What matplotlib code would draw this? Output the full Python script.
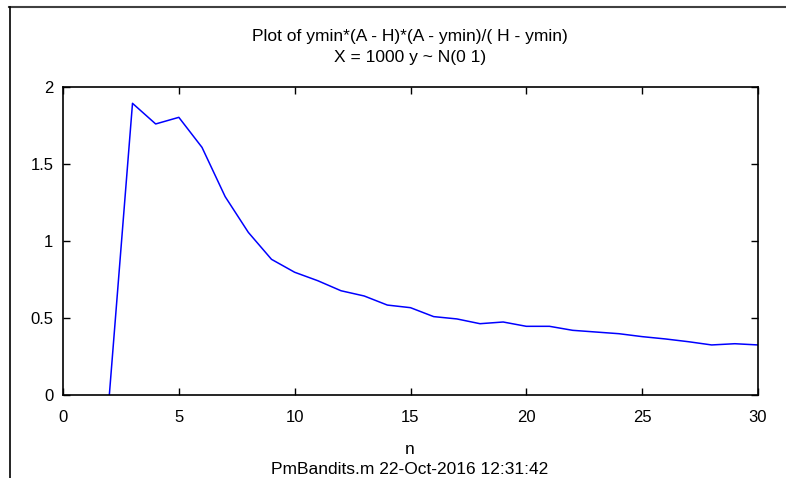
import numpy as np
from matplotlib import pyplot as plt
from matplotlib.lines import Line2D

plt.rcParams['font.family'] = ['Liberation Sans', 'DejaVu Sans']

# values
n = [2, 3, 4, 5, 6, 7, 8, 9, 10, 11, 12, 13, 14, 15, 16,
     17, 18, 19, 20, 21, 22, 23, 24, 25, 26, 27, 28, 29, 30]
val = [0.0, 1.894, 1.76, 1.803, 1.608, 1.288, 1.056, 0.881, 0.797, 0.742,
       0.677, 0.643, 0.584, 0.567, 0.509, 0.494, 0.463, 0.474, 0.446, 0.446,
       0.42, 0.409, 0.398, 0.379, 0.364, 0.346, 0.325, 0.333, 0.325]
xticks = [0, 5, 10, 15, 20, 25, 30]
yticks = [0, 0.5, 1, 1.5, 2]

fig = plt.figure(figsize=(7.86, 4.78), dpi=100)
ax = fig.add_axes([63 / 786, 1 - 395 / 478, 695 / 786, 308 / 478])

ax.plot(n, val, color='#0000ff', linewidth=1.1)
ax.set_xlim(0, 30)
ax.set_ylim(0, 2)
ax.set_xticks(xticks)
ax.set_xticklabels([str(t) for t in xticks])
ax.set_yticks(yticks)
ax.set_yticklabels(['0', '0.5', '1', '1.5', '2'])
ax.tick_params(direction='in', top=True, right=True, length=5, width=1,
               labelsize=12)
ax.tick_params(axis='x', pad=10.5)
ax.tick_params(axis='y', pad=7)
for s in ax.spines.values():
    s.set_linewidth(1.2)

fig.text(410 / 786, 1 - 36.5 / 478, 'Plot of ymin*(A - H)*(A - ymin)/( H - ymin)',
         ha='center', va='center', fontsize=12.5)
fig.text(410 / 786, 1 - 57 / 478, 'X = 1000 y ~ N(0 1)',
         ha='center', va='center', fontsize=12.5)
fig.text(410 / 786, 1 - 450 / 478, 'n', ha='center', va='center', fontsize=12.5)
fig.text(410 / 786, 1 - 469 / 478, 'PmBandits.m 22-Oct-2016 12:31:42',
         ha='center', va='center', fontsize=12.5)

# window frame at top and left
fig.add_artist(Line2D([9 / 786, 1], [1 - 6.5 / 478, 1 - 6.5 / 478], color='#404040', linewidth=1.5))
fig.add_artist(Line2D([9.5 / 786, 9.5 / 786], [0, 1 - 6.5 / 478], color='black', linewidth=1.2))

fig.savefig('out.png', dpi=100)
